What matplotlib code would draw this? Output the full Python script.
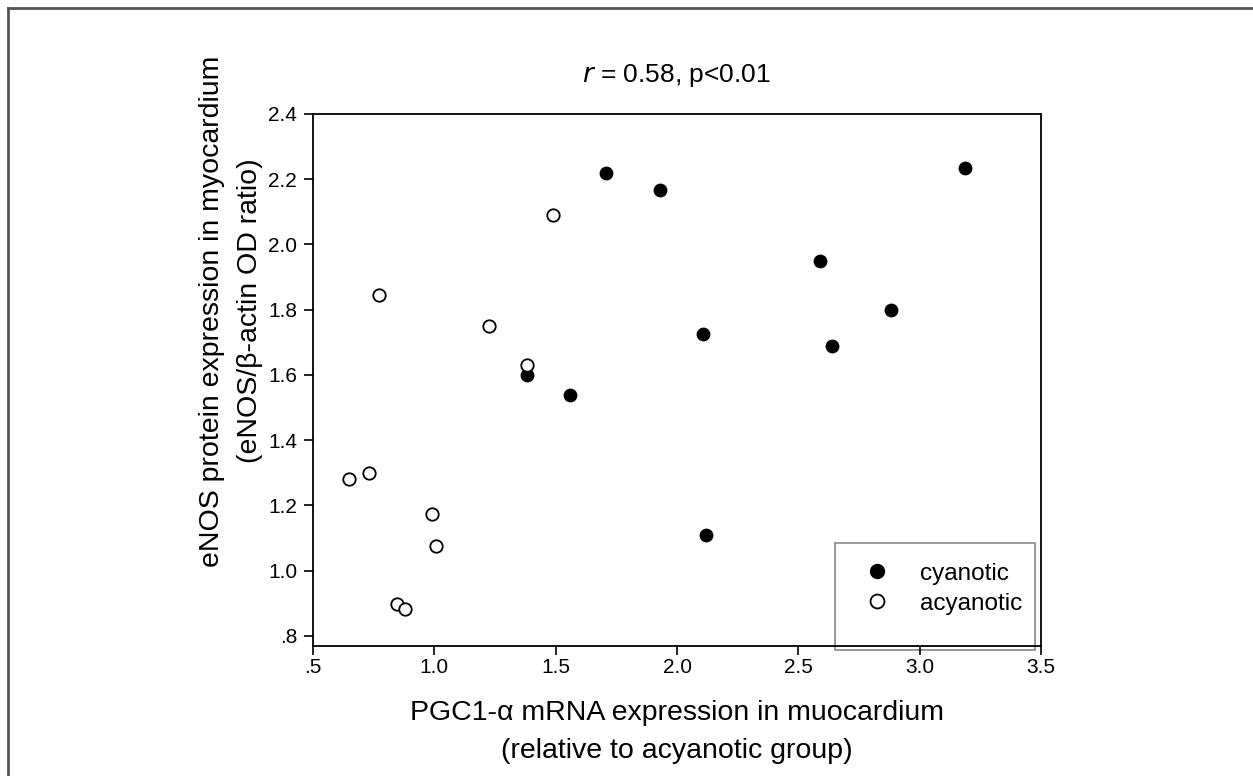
import matplotlib
matplotlib.use("Agg")
import matplotlib.pyplot as plt
from matplotlib.lines import Line2D
from matplotlib.patches import Rectangle

plt.rcParams['font.family'] = ['Liberation Sans', 'DejaVu Sans']

# cyanotic group (filled)
cyan_x = [1.707, 1.931, 3.188, 2.588, 2.883, 2.108, 2.64, 1.38, 1.56, 2.12]
cyan_y = [2.220, 2.168, 2.233, 1.950, 1.800, 1.726, 1.69, 1.60, 1.54, 1.11]
# acyanotic group (open)
acy_x = [1.49, 0.77, 1.225, 1.38, 0.65, 0.73, 0.989, 1.007, 0.846, 0.880]
acy_y = [2.09, 1.845, 1.75, 1.63, 1.28, 1.30, 1.174, 1.075, 0.899, 0.882]

xticks = [0.5, 1.0, 1.5, 2.0, 2.5, 3.0, 3.5]
xticklabels = ['.5', '1.0', '1.5', '2.0', '2.5', '3.0', '3.5']
yticks = [0.8, 1.0, 1.2, 1.4, 1.6, 1.8, 2.0, 2.2, 2.4]
yticklabels = ['.8', '1.0', '1.2', '1.4', '1.6', '1.8', '2.0', '2.2', '2.4']

fig = plt.figure(figsize=(12.53, 7.76), dpi=100)
ax = fig.add_axes([313/1253, 1 - 646/776, 728/1253, 532/776])

ax.scatter(cyan_x, cyan_y, s=80, c='black', edgecolors='black', zorder=3)
ax.scatter(acy_x, acy_y, s=80, facecolors='white', edgecolors='black', linewidths=1.3, zorder=3)

ax.set_xlim(0.5, 3.5)
ax.set_ylim(0.769, 2.4)
ax.set_xticks(xticks)
ax.set_xticklabels(xticklabels)
ax.set_yticks(yticks)
ax.set_yticklabels(yticklabels)
ax.tick_params(labelsize=15, length=6.5, width=1.2, direction='out')
ax.tick_params(axis='y', pad=5)
ax.tick_params(axis='x', pad=2)
for sp in ax.spines.values():
    sp.set_linewidth(1.3)

ax.set_title(r'$r$ = 0.58, p<0.01', fontsize=19, pad=23)
ax.set_xlabel('PGC1-\u03b1 mRNA expression in muocardium\n(relative to acyanotic group)',
              fontsize=20.5, labelpad=17, linespacing=1.6)
ax.set_ylabel('eNOS protein expression in myocardium\n(eNOS/\u03b2-actin OD ratio)',
              fontsize=20.5, linespacing=1.6)
ax.yaxis.set_label_coords(-0.068, 0.63)

# legend
handles = [Line2D([], [], ls='', marker='o', ms=10, mfc='black', mec='black'),
           Line2D([], [], ls='', marker='o', ms=10, mfc='white', mec='black', mew=1.3)]
ax.legend(handles, ['cyanotic', 'acyanotic'], loc='upper left',
          bbox_to_anchor=(0.745, 0.175), frameon=False, fontsize=17.5,
          handlelength=1.0, handletextpad=1.25, labelspacing=0.33, borderaxespad=0)
ax.add_patch(Rectangle((0.717, -0.008), 0.275, 0.2016, transform=ax.transAxes,
                       fill=False, edgecolor='#888888', lw=1.2, clip_on=False))

# outer frame (left and top edges)
fig.add_artist(Line2D([8/1253, 8/1253], [0, 1 - 8/776], color='#555555', lw=2))
fig.add_artist(Line2D([8/1253, 1], [1 - 8/776, 1 - 8/776], color='#555555', lw=2))

fig.savefig('out.png', dpi=100)
